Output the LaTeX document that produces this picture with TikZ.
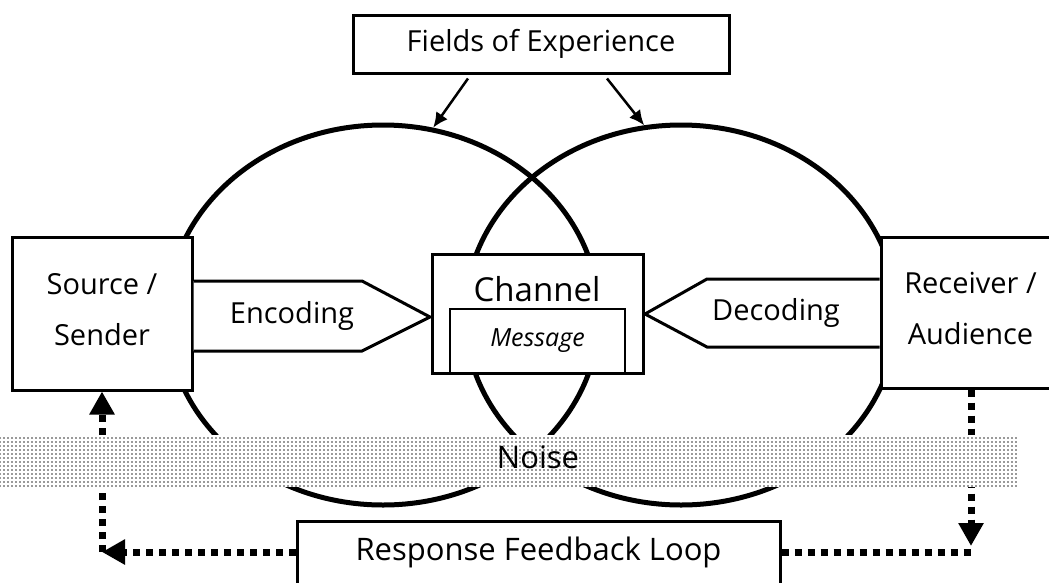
\documentclass[tikz,border=0pt]{standalone}
\usepackage{fontspec}
\setmainfont{Open Sans}
\usetikzlibrary{shapes.geometric,arrows.meta,patterns,calc}

\pgfdeclarepatternformonly{noisedots}{\pgfqpoint{-1pt}{-1pt}}{\pgfqpoint{1pt}{1pt}}{\pgfqpoint{4pt}{4pt}}{%
  \pgfpathcircle{\pgfqpoint{0pt}{0pt}}{0.8pt}\pgfusepath{fill}}

\tikzset{
  field/.style={ellipse, draw, line width=5pt, minimum width=432pt, minimum height=380pt, inner sep=0pt},
  box/.style={draw, line width=3pt, fill=white, inner sep=0pt, align=center, font=\fontsize{29}{51}\selectfont},
  txt/.style={inner sep=0pt, align=center, font=\fontsize{29}{51}\selectfont},
  fbline/.style={line width=7pt, dash pattern=on 7pt off 6pt},
  fbtip/.style={-{Triangle[length=23pt,width=24pt]}},
  fearrow/.style={line width=2.5pt, -{Latex[length=15pt,width=14pt]}}
}

\begin{document}
\begin{tikzpicture}[x=1pt,y=1pt,yscale=-1,xscale=1]
\useasboundingbox (0,0) rectangle (1049,582);
\clip (0,0) rectangle (1049,582);

% the two fields of experience
\node[field] (fldL) at (383,315) {};
\node[field] (fldR) at (681,315) {};

% boxes
\node[box, minimum width=376pt, minimum height=58pt] (fields) at (541,44) {Fields of Experience};
\node[box, minimum width=180pt, minimum height=153pt, text depth=9pt] (src) at (102,313.5) {Source /\\Sender};
\node[box, minimum width=179pt, minimum height=151pt, text depth=9pt] (rcv) at (970.5,312.5) {Receiver /\\Audience};

% encoding / decoding
\draw[line width=3pt, fill=white] (src.east |- 0,281) -- (362,281) -- (430,317) -- (362,351) -- (src.east |- 0,351);
\node[txt, anchor=base] (enc) at (292,323) {Encoding};
\draw[line width=3pt, fill=white] (rcv.west |- 0,279) -- (707,279) -- (645,314) -- (707,347) -- (rcv.west |- 0,347);
\node[txt, anchor=base] (dec) at (776,320) {Decoding};

% channel
\node[box, minimum width=211pt, minimum height=119pt] (chan) at (537.5,313.5) {};
\node[txt, anchor=base, font=\fontsize{33}{40}\selectfont] (chanlbl) at (537,301) {Channel};
\node[box, line width=2pt, minimum width=175pt, minimum height=64pt, font=\fontsize{25}{30}\selectfont\itshape] (msg) at (537.5,341) {Message};

% fields of experience arrows
\draw[fearrow] ($(fields.south)+(-73,4)$) -- (fldL.75);
\draw[fearrow] ($(fields.south)+(66,4)$) -- (fldR.101);

% feedback
\node[box, minimum width=483pt, minimum height=90pt, anchor=north] (resp) at (538.5,520) {};
\node[txt, anchor=base, font=\fontsize{31}{40}\selectfont] (resplbl) at (538.5,560) {Response Feedback Loop};
\coordinate (fbL) at (102,552);
\coordinate (fbR) at (971,552);
\draw[fbline, fbtip] (resp.west |- fbL) -- (fbL);
\draw[fbline, fbtip] (fbL) -- (src.south);
\draw[fbline] (resp.east |- fbR) -- (fbR);
\draw[fbline, fbtip] (rcv.south -| fbR) -- ($(fbR)+(0,-6)$);

% noise
\fill[white] (0,435) rectangle (1017,487);
\fill[pattern=noisedots, pattern color=black!80] (0,435) rectangle (1017,487);
\node[txt, anchor=base, font=\fontsize{31}{40}\selectfont] (noise) at (538,468) {Noise};
\end{tikzpicture}
\end{document}
